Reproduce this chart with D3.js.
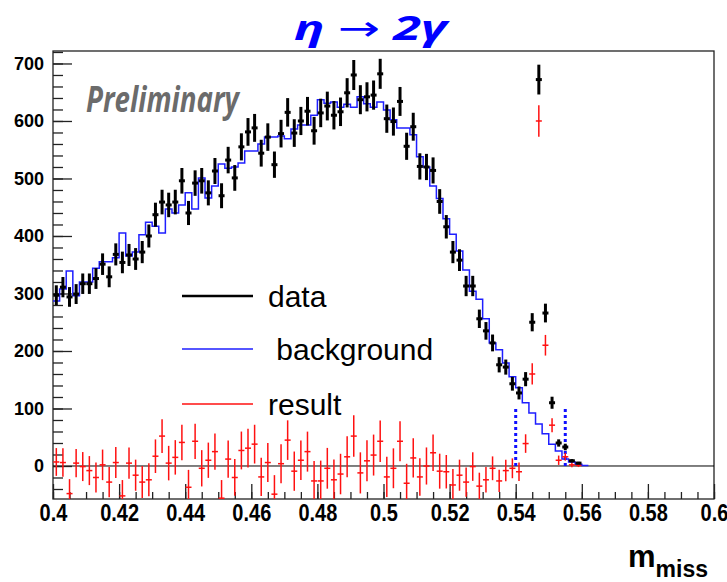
<!DOCTYPE html>
<html><head><meta charset="utf-8">
<script src="https://cdn.jsdelivr.net/npm/d3@7"></script>
<style>body{margin:0;background:#fff;} svg{display:block;}</style>
</head><body>
<svg id="c" width="727" height="582"></svg>
<script>
// ---- data (bin width 0.002 starting at 0.4) ----
const binStart = 0.4;
const binWidth = 0.002;
const data = [297,311,294,299,317,317,326,351,329,368,354,367,360,372,400,437,459,454,459,496,
  440,492,496,475,513,470,532,501,555,581,588,544,572,524,578,615,579,600,617,583,
  614,626,610,616,649,680,637,642,645,682,604,599,634,556,590,521,520,514,460,416,
  372,358,313,313,256,235,214,176,172,143,127,151,250,672,266,110,40,33,9,5];
const background = [287,308,339,296,320,320,344,355,355,362,405,365,372,402,424,417,405,447,440,454,
  475,447,501,466,487,525,518,520,527,548,548,560,572,572,574,569,586,593,593,610,
  637,631,633,624,629,624,642,630,624,633,619,602,588,588,576,538,520,487,465,430,
  403,374,341,304,290,256,214,202,179,155,136,110,92,73,56,38,26,12,7,3,1];
const result = [7,6,-48,5,-1,-8,-20,2,-28,6,-52,5,-16,-28,-24,17,52,5,15,41,
  -37,43,-4,10,25,-56,12,-20,27,31,38,-19,6,-49,4,45,-9,10,25,-26,
  -26,-4,-24,-14,16,52,-12,9,19,43,-19,-4,43,-30,14,-19,0,23,-9,-10,
  -33,-16,-28,-1,-35,-24,-4,-26,-8,-4,-10,39,160,600,210,71,10,16,2,1];
const cutLines = [0.54, 0.555];
const cutHeight = 100;
const xTickValues = [0.4,0.42,0.44,0.46,0.48,0.5,0.52,0.54,0.56,0.58,0.6];
const xTickLabels = ["0.4","0.42","0.44","0.46","0.48","0.5","0.52","0.54","0.56","0.58","0.6"];
const yTickValues = [0,100,200,300,400,500,600,700];
const yTickLabels = ["0","100","200","300","400","500","600","700"];
const legendLabels = ["data"," background","result"];

// ---- layout ----
const svg = d3.select("#c");
const L = 53, R = 714, T = 51, B = 499;
const x = d3.scaleLinear().domain([0.4, 0.6]).range([L, R]);
const y = d3.scaleLinear().domain([-57.4, 721.7]).range([B, T]);

// frame
svg.append("rect").attr("x", L).attr("y", T).attr("width", R - L).attr("height", B - T)
  .attr("fill", "none").attr("stroke", "#222").attr("stroke-width", 1.3);

// zero line
svg.append("line").attr("x1", L).attr("x2", R).attr("y1", y(0)).attr("y2", y(0))
  .attr("stroke", "#000").attr("stroke-width", 1);

// axes
const xMinor = d3.range(0, 41).map(i => 0.4 + i * 0.005);
const gxm = svg.append("g").attr("transform", `translate(0,${B})`)
  .call(d3.axisBottom(x).tickValues(xMinor).tickSize(-7).tickFormat(""));
const gx = svg.append("g").attr("transform", `translate(0,${B})`)
  .call(d3.axisBottom(x).tickValues(xTickValues).tickSize(-15).tickPadding(5)
    .tickFormat((d, i) => xTickLabels[i]));
const yMinor = d3.range(-40, 721, 20);
const gym = svg.append("g").attr("transform", `translate(${L},0)`)
  .call(d3.axisLeft(y).tickValues(yMinor).tickSize(-10).tickFormat(""));
const gy = svg.append("g").attr("transform", `translate(${L},0)`)
  .call(d3.axisLeft(y).tickValues(yTickValues).tickSize(-19).tickPadding(9)
    .tickFormat((d, i) => yTickLabels[i]));
[gxm, gx, gym, gy].forEach(g => {
  g.select(".domain").remove();
  g.selectAll(".tick line").attr("stroke", "#222").attr("stroke-width", 1.3);
});
gx.selectAll("text").attr("fill", "#000").attr("font-family", "Liberation Sans, Arial, sans-serif")
  .attr("font-weight", "bold").attr("font-size", 20)
  .attr("y", null).attr("dy", null)
  .attr("transform", "translate(0,22) scale(1,1.2)");
gy.selectAll("text").attr("fill", "#000").attr("font-family", "Liberation Sans, Arial, sans-serif")
  .attr("font-weight", "bold").attr("font-size", 18);

// background step histogram
const bkgPts = background.map((v, i) => [binStart + i * binWidth, v]);
bkgPts.push([binStart + background.length * binWidth, background[background.length - 1]]);
svg.append("path").datum(bkgPts)
  .attr("d", d3.line().x(d => x(d[0])).y(d => y(d[1])).curve(d3.curveStepAfter))
  .attr("fill", "none").attr("stroke", "#1e1eff").attr("stroke-width", 1.5);

// cut lines
svg.selectAll(".cut").data(cutLines).join("line").attr("class", "cut")
  .attr("x1", d => x(d)).attr("x2", d => x(d)).attr("y1", y(0)).attr("y2", y(cutHeight))
  .attr("stroke", "#1010ff").attr("stroke-width", 3).attr("stroke-dasharray", "3,3");

// error-bar points
function drawPoints(vals, errs, color, w, cls) {
  const g = svg.append("g").attr("class", cls);
  vals.forEach((v, i) => {
    const xc = x(binStart + (i + 0.5) * binWidth);
    const x0 = x(binStart + i * binWidth), x1 = x(binStart + (i + 1) * binWidth);
    const e = errs[i];
    g.append("line").attr("x1", xc).attr("x2", xc)
      .attr("y1", Math.min(B, y(v - e))).attr("y2", Math.max(T, y(v + e)))
      .attr("stroke", color).attr("stroke-width", w);
    if (y(v) <= B && y(v) >= T)
      g.append("line").attr("x1", x0 + 0.3).attr("x2", x1 - 0.3).attr("y1", y(v)).attr("y2", y(v))
        .attr("stroke", color).attr("stroke-width", w);
  });
}
const resultErr = result.map((r, i) => Math.sqrt(data[i] + background[i]));
const dataErr = data.map(v => Math.sqrt(v));
drawPoints(result, resultErr, "#ff1010", 1.5, "res");
drawPoints(data, dataErr, "#000", 3, "dat");

// legend
const legColors = ["#000", "#1e1eff", "#ff1010"];
const legW = [2.5, 1.5, 1.5];
const legY = [296, 349, 404];
const legTextX = [268, 268, 268];
legendLabels.forEach((t, i) => {
  svg.append("line").attr("x1", 182).attr("x2", 253).attr("y1", legY[i]).attr("y2", legY[i])
    .attr("stroke", legColors[i]).attr("stroke-width", legW[i]);
  svg.append("text").attr("x", legTextX[i]).attr("y", legY[i] + 11)
    .attr("font-family", "Liberation Sans, Arial, sans-serif").attr("font-size", 30)
    .attr("xml:space", "preserve").style("white-space", "pre")
    .attr("fill", "#000").text(t);
});

// title
const title = svg.append("text").attr("x", 294).attr("y", 40)
  .attr("font-family", "Open Sans, DejaVu Sans, sans-serif").attr("font-size", 34)
  .attr("fill", "#0000ff").attr("textLength", 153).attr("lengthAdjust", "spacingAndGlyphs");
title.append("tspan").attr("font-weight", "bold").attr("font-style", "italic").text("η");
title.append("tspan").attr("font-weight", "normal").text(" → ");
title.append("tspan").attr("font-weight", "bold").attr("font-style", "italic").text("2γ");

// Preliminary
svg.append("text").attr("x", 86).attr("y", 112)
  .attr("font-family", "Open Sans, DejaVu Sans, sans-serif").attr("font-size", 36)
  .attr("font-weight", "bold").attr("font-style", "italic").attr("fill", "#6b6b6b")
  .attr("textLength", 153).attr("lengthAdjust", "spacingAndGlyphs").text("Preliminary");

// axis title
const at = svg.append("text").attr("font-family", "Liberation Sans, Arial, sans-serif")
  .attr("font-weight", "bold").attr("fill", "#000");
at.append("tspan").attr("x", 628).attr("y", 567).attr("font-size", 31).text("m");
at.append("tspan").attr("dy", 10).attr("font-size", 23).text("miss");
</script>
</body></html>
